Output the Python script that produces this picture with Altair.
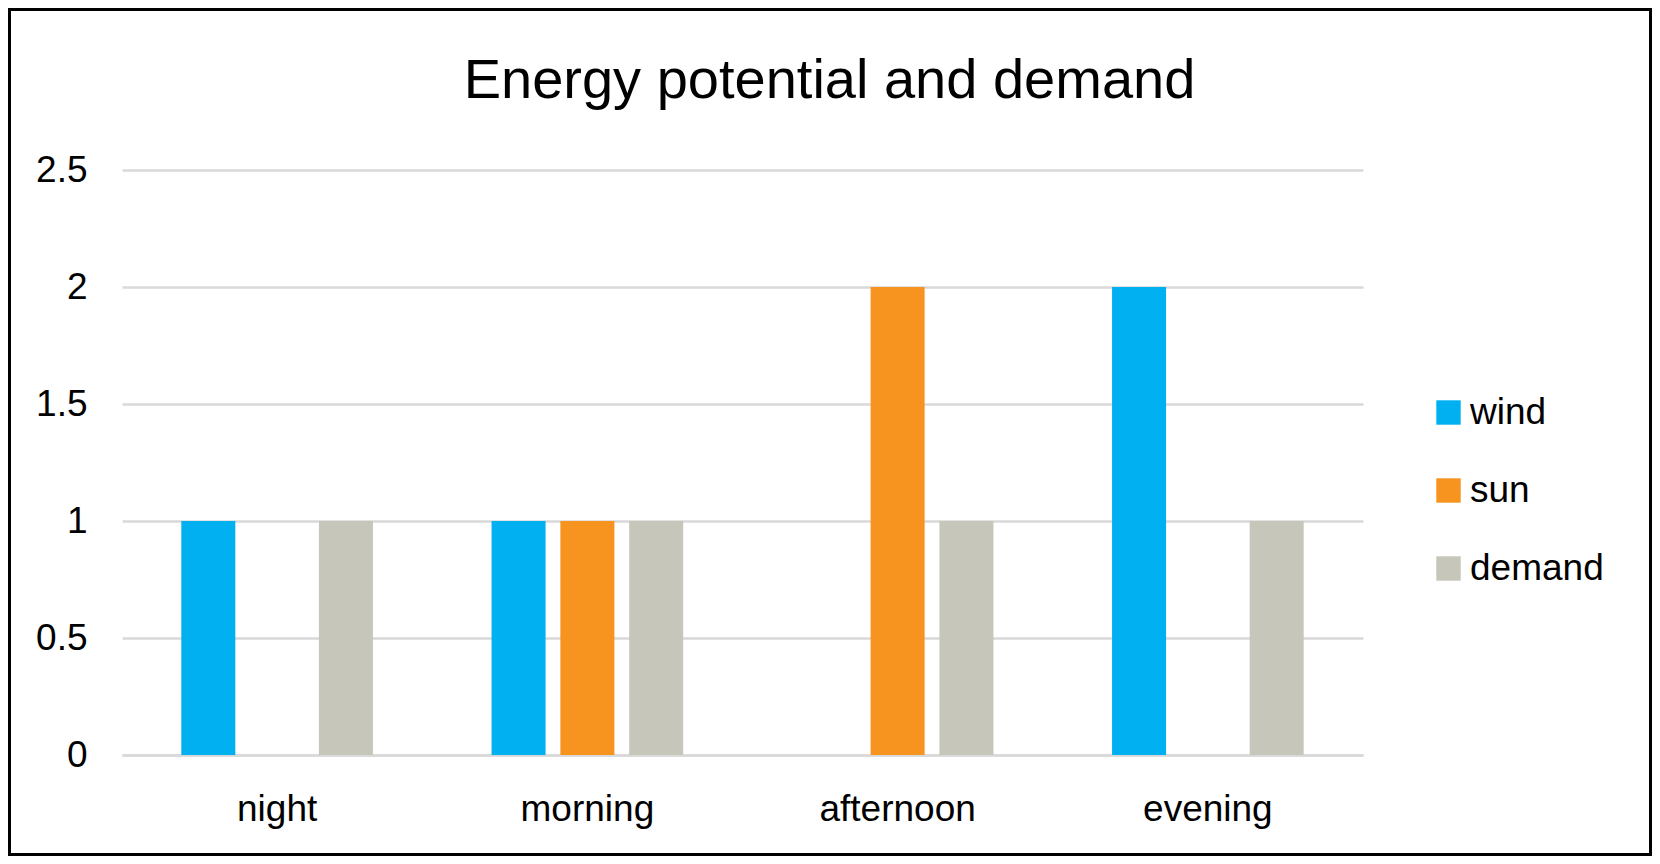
import altair as alt
import pandas as pd

categories = ["night", "morning", "afternoon", "evening"]
series = ["wind", "sun", "demand"]
wind = [1, 1, None, 2]
sun = [None, 1, 2, None]
demand = [1, 1, 1, 1]
colors = ["#00B0F0", "#F7941F", "#C6C6BA"]
y_ticks = [0, 0.5, 1, 1.5, 2, 2.5]
y_labels = ["0", "0.5", "1", "1.5", "2", "2.5"]

rows = []
for name, vals in zip(series, [wind, sun, demand]):
    for c, v in zip(categories, vals):
        if v is not None:
            rows.append({"period": c, "series": name, "value": v})
df = pd.DataFrame(rows)

label_expr = "{" + ",".join(f"'{t}':'{l}'" for t, l in zip(y_ticks, y_labels)) + "}[datum.value]"

PW, PH = 1241, 585
PL, PT = 114, 162

bars = alt.Chart(df).mark_bar().encode(
    x=alt.X("period:N", sort=categories,
            scale=alt.Scale(paddingInner=0, paddingOuter=0),
            axis=alt.Axis(title=None, labelAngle=0, labelFontSize=37, labelColor="#000000",
                          labelFont="Liberation Sans", ticks=False, domainColor="#d9d9d9",
                          domainWidth=2.5, labelPadding=36, grid=False)),
    xOffset=alt.XOffset("series:N", sort=series,
                        scale=alt.Scale(domain=series, paddingInner=0.215, paddingOuter=0.862)),
    y=alt.Y("value:Q", scale=alt.Scale(domain=[0, 2.5], nice=False),
            axis=alt.Axis(title=None, values=y_ticks, labelExpr=label_expr,
                          labelFontSize=37, labelColor="#000000",
                          labelFont="Liberation Sans", ticks=False, domain=False,
                          gridColor="#d9d9d9", gridWidth=2.5, labelPadding=35)),
    color=alt.Color("series:N", sort=series,
                    scale=alt.Scale(domain=series, range=colors),
                    legend=alt.Legend(title=None, orient="none", legendX=1308, legendY=224,
                                      symbolType="square", symbolSize=595, symbolStrokeWidth=0,
                                      labelFontSize=37, labelFont="Liberation Sans",
                                      labelColor="#000000", labelOffset=3, rowPadding=40)),
)

frame = alt.Chart(pd.DataFrame({"a": [0]})).mark_rect(
    fillOpacity=0, stroke="#000000", strokeWidth=3
).encode(
    x=alt.value(-PL + 1.5), x2=alt.value(1642.5 - PL),
    y=alt.value(-PT + 1.5), y2=alt.value(846.5 - PT)
)

chart = alt.layer(bars, frame).properties(
    width=PW, height=PH,
    background="#ffffff",
    title=alt.TitleParams("Energy potential and demand", fontSize=56, font="Liberation Sans",
                          fontWeight="normal", color="#000000", anchor="middle",
                          baseline="alphabetic", dx=87, dy=146, offset=0),
    padding={"left": PL, "top": PT, "right": 1644 - PL - PW, "bottom": 848 - PT - PH},
    autosize=alt.AutoSizeParams(type="none"),
).configure_view(stroke="transparent", strokeWidth=0)

chart.save("out.html", embed_options={"renderer": "svg", "actions": False})
